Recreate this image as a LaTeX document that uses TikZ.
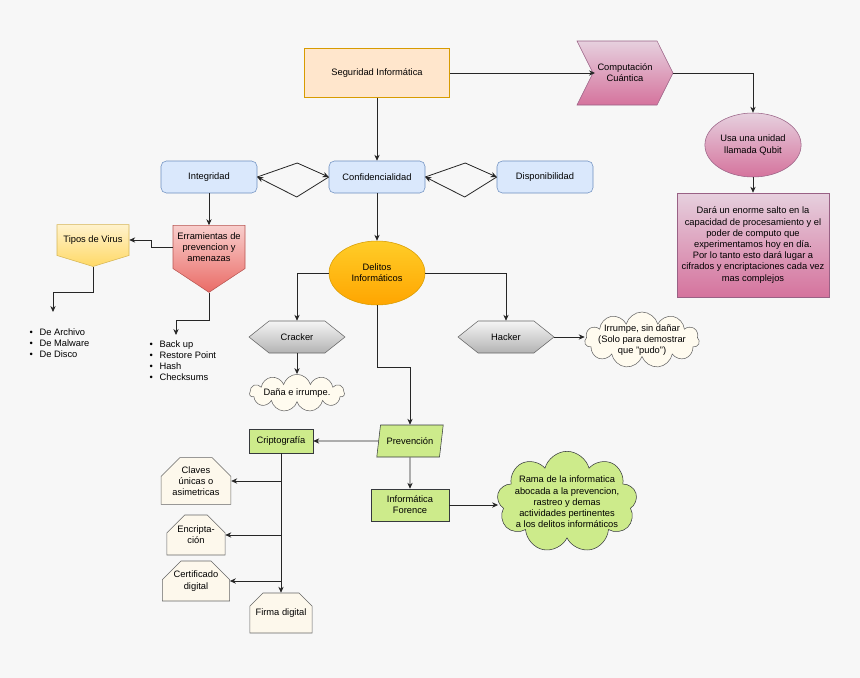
\documentclass[tikz,border=0pt]{standalone}
\usepackage{fontspec}
\setmainfont{Liberation Sans}
\usetikzlibrary{shapes.geometric,shapes.symbols,shapes.misc,arrows.meta,calc}
\definecolor{bg}{HTML}{F7F7F7}
\definecolor{blueF}{HTML}{DAE8FC}\definecolor{blueD}{HTML}{6C8EBF}
\definecolor{orF}{HTML}{FFE6CC}\definecolor{orD}{HTML}{D79B00}
\definecolor{pinkT}{HTML}{E6D0DE}\definecolor{pinkB}{HTML}{D5739D}\definecolor{pinkD}{HTML}{996185}
\definecolor{redT}{HTML}{F8CECC}\definecolor{redB}{HTML}{EA6B66}\definecolor{redD}{HTML}{B85450}
\definecolor{yelT}{HTML}{FFF2CC}\definecolor{yelB}{HTML}{FFD966}\definecolor{yelD}{HTML}{D6B656}
\definecolor{goT}{HTML}{FFCD28}\definecolor{goB}{HTML}{FFA500}
\definecolor{grT}{HTML}{F5F5F5}\definecolor{grB}{HTML}{B3B3B3}\definecolor{grD}{HTML}{666666}
\definecolor{greenF}{HTML}{CDEB8B}\definecolor{greenD}{HTML}{36393D}
\definecolor{cream}{HTML}{FDF8EC}\definecolor{cloudF}{HTML}{FFFBEF}
\begin{document}
\begin{tikzpicture}[x=0.75pt,y=-0.75pt,
  every node/.style={font=\fontsize{7}{8.4}\selectfont, align=center, inner sep=1pt},
  arr/.style={draw=black!85, line width=0.6pt, -{Stealth[length=4.5pt,width=4pt]}},
  blu/.style={draw=blueD, fill=blueF, rounded corners=4pt, minimum width=72pt, minimum height=24pt},
  grn/.style={draw=greenD, fill=greenF},
  hex/.style={signal, signal to=west and east, signal pointer angle=77, top color=grT, bottom color=grB, draw=grD, minimum width=72pt, minimum height=24pt},
  card/.style={chamfered rectangle, chamfered rectangle corners={north west,north east}, chamfered rectangle xsep=8pt, chamfered rectangle ysep=6pt, draw=grD, fill=cream, minimum width=42pt, minimum height=30pt, inner sep=0.5pt},
  cl/.style={cloud, cloud puffs=11, draw=grD, cloud ignores aspect}
]
\fill[bg] (0,0) rectangle (860,678);
\useasboundingbox (0,0) rectangle (860,678);

\node[draw=orD, fill=orF, minimum width=108.75pt, minimum height=36.75pt] (seg) at (377,73) {Seguridad Informática};
\node[signal, signal from=west, signal to=east, signal pointer angle=127, top color=pinkT, bottom color=pinkB, draw=pinkD, minimum width=72pt, minimum height=48pt] (cq) at (625,73) {Computación\\Cuántica};
\node[ellipse, top color=pinkT, bottom color=pinkB, draw=pinkD, minimum width=72pt, minimum height=48pt] (qb) at (753,145) {Usa una unidad\\llamada Qubit};
\node[draw=pinkD, top color=pinkT, bottom color=pinkB, minimum width=114pt, minimum height=78pt] (dara) at (753,245) {Dará un enorme salto en la\\capacidad de procesamiento y el\\poder de computo que\\experimentamos hoy en día.\\Por lo tanto esto dará lugar a\\cifrados y encriptaciones cada vez\\mas complejos};

\node[blu] (int) at (209,177) {Integridad};
\node[blu] (conf) at (377,177) {Confidencialidad};
\node[blu] (disp) at (545,177) {Disponibilidad};

\node[signal, signal to=south, signal pointer angle=113, top color=redT, bottom color=redB, draw=redD, minimum width=54pt, minimum height=48pt, inner sep=0pt] (err) at (209,247) {Erramientas de\\prevencion y\\amenazas};
\node[signal, signal to=south, signal pointer angle=146, top color=yelT, bottom color=yelB, draw=yelD, minimum width=54pt, minimum height=30pt, inner sep=0pt] (vir) at (93,240) {Tipos de Virus};

\node[anchor=north west, align=left] (l1) at (28,327) {\textbullet\hspace{5pt}De Archivo\\\textbullet\hspace{5pt}De Malware\\\textbullet\hspace{5pt}De Disco};
\node[anchor=north west, align=left] (l2) at (148,339) {\textbullet\hspace{5pt}Back up\\\textbullet\hspace{5pt}Restore Point\\\textbullet\hspace{5pt}Hash\\\textbullet\hspace{5pt}Checksums};

\node[ellipse, top color=goT, bottom color=goB, draw=orD, minimum width=72pt, minimum height=48pt] (del) at (377,273) {Delitos\\Informáticos};
\node[hex] (crk) at (297,337) {Cracker};
\node[hex] (hck) at (506,337) {Hacker};
\node[cl, fill=cloudF, minimum width=86pt, minimum height=42pt, inner sep=-9pt] (cl1) at (642,340) {Irrumpe, sin dañar\\(Solo para demostrar\\que "pudo")};
\node[cl, fill=cloudF, minimum width=71pt, minimum height=28pt, inner sep=-6pt] (cl2) at (297,393) {Daña e irrumpe.};

\node[trapezium, trapezium left angle=72, trapezium right angle=108, grn, minimum width=50pt, minimum height=24pt, trapezium stretches=true] (prev) at (410,441) {Prevención};
\node[grn, minimum width=48pt, minimum height=18pt] (cri) at (281,441) {Criptografía};
\node[grn, minimum width=58.5pt, minimum height=24pt] (inf) at (410,505) {Informática\\Forence};
\node[cl, cloud puffs=9, fill=greenF, draw=greenD, minimum width=105pt, minimum height=76pt, inner sep=-14pt] (cl3) at (567,502) {Rama de la informatica\\abocada a la prevencion,\\rastreo y demas\\actividades pertinentes\\a los delitos informáticos};

\node[card] (clv) at (196,481) {Claves\\únicas o\\asimetricas};
\node[card] (enc) at (196,535) {Encripta-\\ción};
\node[card] (cer) at (196,581) {Certificado\\digital};
\node[card] (fir) at (281,613) {Firma digital};

% connectors
\coordinate (notch) at (595,73);
\draw[arr] (seg.east) -- (notch);
\draw[arr] (cq.east) -| (qb.north);
\draw[arr] (qb.south) -- (dara.north);
\draw[arr] (seg.south) -- (conf.north);
\draw[arr] (int.east) -- ++(40,-14) -- (conf.west);
\draw[arr] (conf.west) -- ++(-32,20) -- (int.east);
\draw[arr] (conf.east) -- ++(40,-14) -- (disp.west);
\draw[arr] (disp.west) -- ++(-32,20) -- (conf.east);
\draw[arr] (int.south) -- (err.north);
\draw[arr] (err.west) -- ++(-21,0) |- (vir.east);
\coordinate (v1) at (53,312);
\draw[arr] (vir.south) -- ++(0,26) -| (v1);
\coordinate (v2) at (176,335);
\draw[arr] (err.south) -- ++(0,28) -| (v2);
\draw[arr] (conf.south) -- (del.north);
\draw[arr] (del.west) -| (crk.north);
\draw[arr] (del.east) -| (hck.north);
\draw[arr] (hck.east) -- (hck.east -| cl1.west);
\draw[arr] (crk.south) -- (cl2.north);
\draw[arr] (del.south) -- (377,367) -| (prev.north);
\draw[arr] (prev.west) -- (cri.east);
\draw[arr] (prev.south) -- (inf.north);
\draw[arr] (inf.east) -- (inf.east -| cl3.west);
\draw[arr] (cri.south) -- (fir.north);
\draw[arr] (cri.south |- clv.east) -- (clv.east);
\draw[arr] (cri.south |- enc.east) -- (enc.east);
\draw[arr] (cri.south |- cer.east) -- (cer.east);
\end{tikzpicture}
\end{document}
